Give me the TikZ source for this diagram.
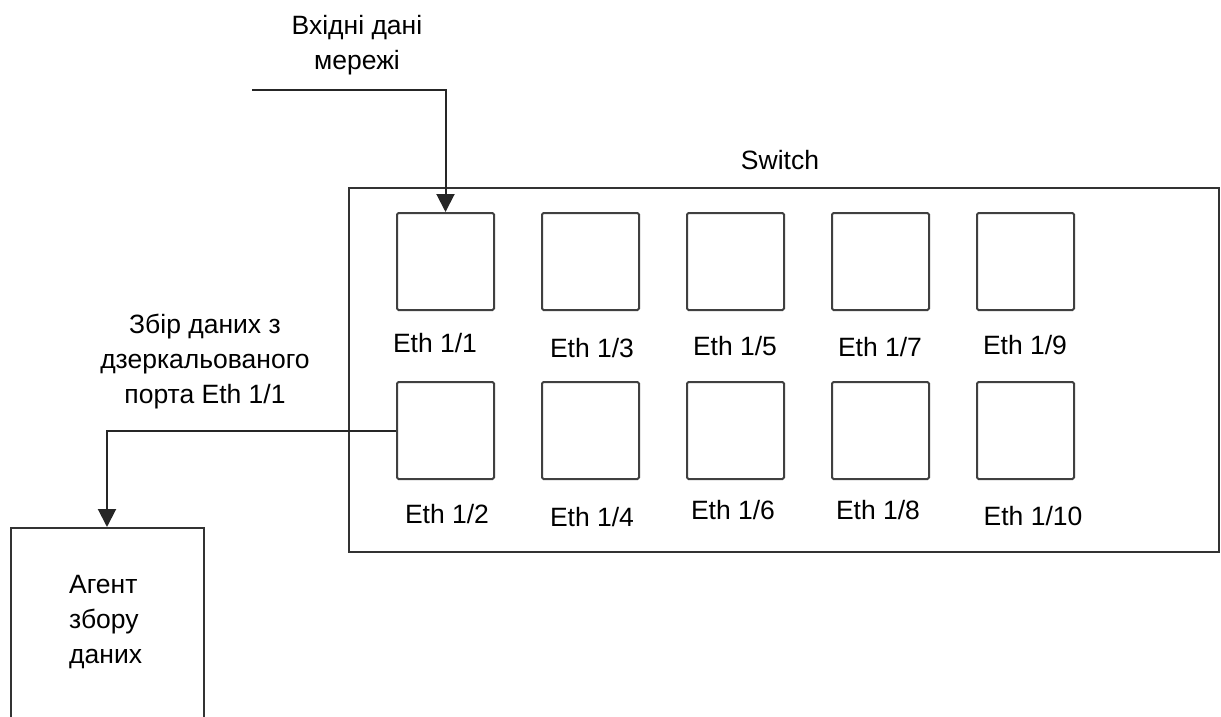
\documentclass[tikz,border=0pt]{standalone}
\usepackage{fontspec}
\setmainfont{Liberation Sans}
\usetikzlibrary{arrows.meta}
\begin{document}
\begin{tikzpicture}[x=1pt,y=-1pt,
  box/.style={draw=black!80,line width=2pt,inner sep=0pt},
  port/.style={draw=black!75,line width=2pt,minimum width=97pt,minimum height=97pt,inner sep=0pt,rounded corners=1.5pt},
  lbl/.style={font=\fontsize{26.5}{35}\selectfont,inner sep=0pt,align=center},
  conn/.style={draw=black!85,line width=2pt,-{Triangle[length=18pt,width=18pt]}}
]
\useasboundingbox (0,0) rectangle (1221,717);
\clip (0,0) rectangle (1221,717);
% switch
\node[box,minimum width=870pt,minimum height=364pt,anchor=north west] (sw) at (348,187) {};
\node[lbl] (swl) at (780,160) {Switch};
% ports
\node[port,anchor=north west] (p1) at (396,212) {};
\node[port,anchor=north west] (p3) at (541,212) {};
\node[port,anchor=north west] (p5) at (686,212) {};
\node[port,anchor=north west] (p7) at (831,212) {};
\node[port,anchor=north west] (p9) at (976,212) {};
\node[port,anchor=north west] (p2) at (396,381) {};
\node[port,anchor=north west] (p4) at (541,381) {};
\node[port,anchor=north west] (p6) at (686,381) {};
\node[port,anchor=north west] (p8) at (831,381) {};
\node[port,anchor=north west] (p10) at (976,381) {};
% port labels
\node[lbl] (l1) at (435,343) {Eth 1/1};
\node[lbl] (l3) at (592,348) {Eth 1/3};
\node[lbl] (l5) at (735,346) {Eth 1/5};
\node[lbl] (l7) at (880,347) {Eth 1/7};
\node[lbl] (l9) at (1025,345) {Eth 1/9};
\node[lbl] (l2) at (447,514) {Eth 1/2};
\node[lbl] (l4) at (592,517) {Eth 1/4};
\node[lbl] (l6) at (733,510) {Eth 1/6};
\node[lbl] (l8) at (878,510) {Eth 1/8};
\node[lbl] (l10) at (1033,516) {Eth 1/10};
% input
\node[lbl] (in) at (357,45) {Вхідні дані\\мережі};
\coordinate (src) at (252,90);
\draw[conn] (src) -| (p1.north);
% mirror
\node[lbl] (mir) at (205,362) {Збір даних з\\дзеркальованого\\порта Eth 1/1};
% agent
\node[box,minimum width=193pt,minimum height=220pt,anchor=north west] (ag) at (10,527) {};
\node[lbl,align=left,anchor=north west] (agl) at (69,575) {Агент\\збору\\даних};
\draw[conn] (p2.west) -| (ag.north-|107,0);
\end{tikzpicture}
\end{document}
